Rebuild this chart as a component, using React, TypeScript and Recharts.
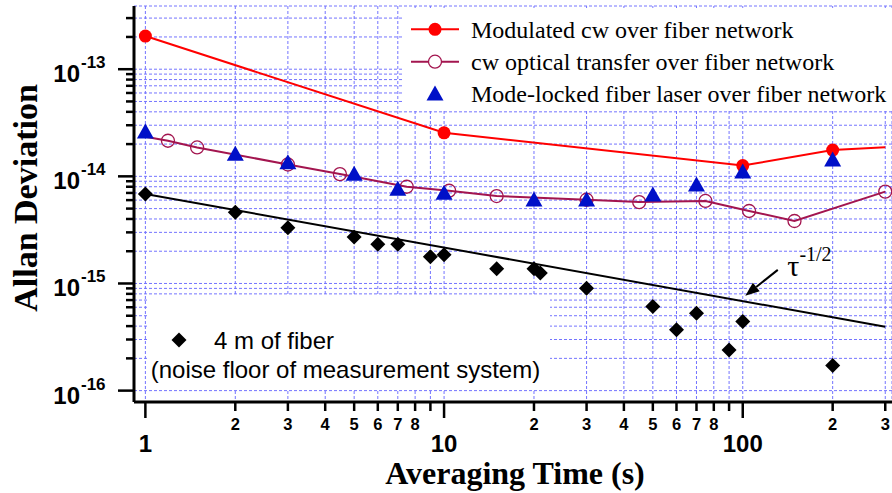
import React from 'react';
import {
  ComposedChart,
  Line,
  Scatter,
  XAxis,
  YAxis,
  CartesianGrid,
  ReferenceLine,
  ReferenceDot,
} from 'recharts';

// modulated cw over fiber network (last point only ends the line)
const redX = [1, 10, 100, 200, 300];
const redY = [2.04e-13, 2.55e-14, 1.26e-14, 1.76e-14, 1.87e-14];

// cw optical transfer over fiber network (first point only starts the line)
const cwX = [1, 1.19, 1.49, 3, 4.48, 7.5, 10.4, 15, 30, 45, 75, 105, 149, 300];
const cwY = [2.34e-14, 2.15e-14, 1.86e-14, 1.29e-14, 1.05e-14, 8.0e-15, 7.34e-15, 6.55e-15, 6.05e-15, 5.75e-15, 5.89e-15, 4.75e-15, 3.83e-15, 7.2e-15];

// mode-locked fiber laser over fiber network
const mlX = [1, 2, 3, 5, 7, 10, 20, 30, 50, 70, 100, 200];
const mlY = [2.6e-14, 1.61e-14, 1.34e-14, 1.045e-14, 7.57e-15, 6.95e-15, 6.0e-15, 6.0e-15, 6.7e-15, 8.3e-15, 1.1e-14, 1.42e-14];

// 4 m of fiber
const fibX = [1, 2, 3, 5, 6, 7, 9, 10, 15, 20, 21, 30, 50, 60, 70, 90, 100, 200];
const fibY = [6.84e-15, 4.61e-15, 3.32e-15, 2.72e-15, 2.32e-15, 2.32e-15, 1.78e-15, 1.85e-15, 1.37e-15, 1.37e-15, 1.25e-15, 9.03e-16, 6.1e-16, 3.7e-16, 5.28e-16, 2.4e-16, 4.41e-16, 1.72e-16];

// tau^-1/2 guide line
const fitX = [1, 300];
const fitY = [6.85e-15, 3.95e-16];

const xTicks = [1, 2, 3, 4, 5, 6, 7, 8, 9, 10, 20, 30, 40, 50, 60, 70, 80, 90, 100, 200, 300];
const xTickLabels = ['1', '2', '3', '4', '5', '6', '7', '8', '', '10', '2', '3', '4', '5', '6', '7', '8', '', '100', '2', '3'];
const yTicks = [
  1e-16, 2e-16, 3e-16, 4e-16, 5e-16, 6e-16, 7e-16, 8e-16, 9e-16,
  1e-15, 2e-15, 3e-15, 4e-15, 5e-15, 6e-15, 7e-15, 8e-15, 9e-15,
  1e-14, 2e-14, 3e-14, 4e-14, 5e-14, 6e-14, 7e-14, 8e-14, 9e-14,
  1e-13, 2e-13, 3e-13,
];

const toPts = (xs: number[], ys: number[]) => xs.map((x, i) => ({ x, y: ys[i] }));

const RED = '#ff0000';
const CW = '#a3154f';
const BLUE = '#0010c8';
const GRID = '#7474ff';
const SANS = '"Liberation Sans", Arial, sans-serif';
const SERIF = '"Liberation Serif", "Times New Roman", serif';

const isMajor = (v: number) => {
  const l = Math.log10(v);
  return Math.abs(l - Math.round(l)) < 1e-6;
};

const XTick = (props: any) => {
  const { x, y, payload } = props;
  const v = payload.value;
  const idx = xTicks.findIndex((t) => Math.abs(t - v) < 1e-9);
  const major = isMajor(v);
  const label = xTickLabels[idx];
  return (
    <g>
      <line x1={x} x2={x} y1={y} y2={y + (major ? 16 : 9)} stroke="#000" strokeWidth={2.5} />
      {major ? (
        <text x={x} y={y + 50} textAnchor="middle" fontSize={24} fontWeight="bold" fontFamily={SANS}>
          {label}
        </text>
      ) : label ? (
        <text x={x} y={y + 28} textAnchor="middle" fontSize={16.5} fontWeight="bold" fontFamily={SANS}>
          {label}
        </text>
      ) : null}
    </g>
  );
};

const YTick = (props: any) => {
  const { x, y, payload } = props;
  const v = payload.value;
  const major = isMajor(v);
  return (
    <g>
      <line x1={x} x2={x - (major ? 16 : 8)} y1={y} y2={y} stroke="#000" strokeWidth={2.5} />
      {major && (
        <g fontFamily={SANS} fontWeight="bold">
          <text x={x - 54} y={y + 13} textAnchor="end" fontSize={24}>10</text>
          <text x={x - 53} y={y - 1} fontSize={17}>{Math.round(Math.log10(v))}</text>
        </g>
      )}
    </g>
  );
};

const redDot = (p: any) =>
  p.index === redX.length - 1 ? <g key={p.index} /> : <circle key={p.index} cx={p.cx} cy={p.cy} r={6.5} fill={RED} />;

const cwDot = (p: any) =>
  p.index === 0 ? <g key={p.index} /> : <circle key={p.index} cx={p.cx} cy={p.cy} r={6.5} fill="none" stroke={CW} strokeWidth={1.3} />;

const Triangle = (p: any) => (
  <polygon points={`${p.cx},${p.cy - 8.5} ${p.cx + 8.5},${p.cy + 6.5} ${p.cx - 8.5},${p.cy + 6.5}`} fill={BLUE} />
);

const Diamond = (p: any) => (
  <polygon points={`${p.cx},${p.cy - 7.5} ${p.cx + 7.5},${p.cy} ${p.cx},${p.cy + 7.5} ${p.cx - 7.5},${p.cy}`} fill="#000" />
);

const Arrow = (p: any) => {
  const { x1, y1, x2, y2 } = p;
  const a = Math.atan2(y2 - y1, x2 - x1);
  const L = 14;
  const w = 5.5;
  const bx = x2 - L * Math.cos(a);
  const by = y2 - L * Math.sin(a);
  const px = -Math.sin(a) * w;
  const py = Math.cos(a) * w;
  return (
    <g>
      <line x1={x1} y1={y1} x2={bx} y2={by} stroke="#000" strokeWidth={2} />
      <polygon points={`${x2},${y2} ${bx + px},${by + py} ${bx - px},${by - py}`} fill="#000" />
    </g>
  );
};

const TauLabel = (p: any) => (
  <text x={p.cx} y={p.cy} fontFamily={SERIF} fontSize={30}>
    τ
    <tspan dy={-15} fontSize={20}>-1/2</tspan>
  </text>
);

export default function App() {
  return (
    <div style={{ position: 'absolute', left: 0, top: 0, width: 892, height: 493, background: '#fff' }}>
      <ComposedChart width={892} height={493} margin={{ top: 6, right: 0, bottom: 31, left: 0 }}>
        <CartesianGrid stroke={GRID} strokeDasharray="3 2" strokeWidth={1} />
        <XAxis
          dataKey="x"
          type="number"
          scale="log"
          domain={[0.916, 316]}
          allowDataOverflow
          ticks={xTicks}
          interval={0}
          tick={XTick}
          tickLine={false}
          tickSize={0}
          tickMargin={0}
          height={60}
          axisLine={{ stroke: '#000', strokeWidth: 3 }}
        />
        <XAxis
          xAxisId="top"
          orientation="top"
          dataKey="x"
          type="number"
          scale="log"
          domain={[0.916, 316]}
          allowDataOverflow
          tick={false}
          tickLine={false}
          height={0}
          axisLine={{ stroke: '#000', strokeWidth: 3 }}
        />
        <YAxis
          dataKey="y"
          type="number"
          scale="log"
          domain={[7.83e-17, 3.89e-13]}
          allowDataOverflow
          ticks={yTicks}
          interval={0}
          tick={YTick}
          tickLine={false}
          tickSize={0}
          tickMargin={0}
          width={134}
          axisLine={{ stroke: '#000', strokeWidth: 3 }}
        />
        <Line data={toPts(redX, redY)} dataKey="y" type="linear" stroke={RED} strokeWidth={2} dot={redDot} isAnimationActive={false} />
        <Line data={toPts(cwX, cwY)} dataKey="y" type="linear" stroke={CW} strokeWidth={2} dot={cwDot} isAnimationActive={false} />
        <Line data={toPts(fitX, fitY)} dataKey="y" type="linear" stroke="#000" strokeWidth={2} dot={false} isAnimationActive={false} />
        <Scatter data={toPts(mlX, mlY)} dataKey="y" shape={Triangle} isAnimationActive={false} />
        <Scatter data={toPts(fibX, fibY)} dataKey="y" shape={Diamond} isAnimationActive={false} />
        <ReferenceLine segment={[{ x: 131, y: 1.34e-15 }, { x: 102, y: 7.7e-16 }]} shape={Arrow} />
        <ReferenceDot x={141} y={1.17e-15} r={0} shape={TauLabel} />
      </ComposedChart>

      {/* top legend */}
      <div style={{ position: 'absolute', left: 404, top: 8, width: 488, height: 103, background: '#fff' }}>
        <svg width={488} height={103}>
          <g fontFamily={SERIF} fontSize={24}>
            <line x1={7} x2={55} y1={21.3} y2={21.3} stroke={RED} strokeWidth={2} />
            <circle cx={31} cy={21.3} r={6.5} fill={RED} />
            <text x={67} y={29.7}>Modulated cw over fiber network</text>
            <line x1={7} x2={55} y1={53.7} y2={53.7} stroke={CW} strokeWidth={2} />
            <circle cx={31} cy={53.7} r={6.5} fill="#fff" stroke={CW} strokeWidth={1.3} />
            <text x={67} y={62.1}>cw optical transfer over fiber network</text>
            <polygon points="31,77.5 39.5,92.5 22.5,92.5" fill={BLUE} />
            <text x={67} y={94.4}>Mode-locked fiber laser over fiber network</text>
          </g>
        </svg>
      </div>

      {/* bottom-left legend */}
      <div style={{ position: 'absolute', left: 149, top: 296, width: 401, height: 93, background: '#fff' }}>
        <svg width={401} height={93}>
          <g fontFamily={SANS} fontSize={24}>
            <polygon points="30,36.5 37.5,44 30,51.5 22.5,44" fill="#000" />
            <text x={65} y={53}>4 m of fiber</text>
            <text x={1.7} y={82}>(noise floor of measurement system)</text>
          </g>
        </svg>
      </div>

      {/* axis titles */}
      <svg width={892} height={493} style={{ position: 'absolute', left: 0, top: 0, pointerEvents: 'none' }}>
        <text
          transform="translate(37,198) rotate(-90)"
          textAnchor="middle"
          fontFamily={SERIF}
          fontWeight="bold"
          fontSize={34}
        >
          Allan Deviation
        </text>
        <text x={515} y={484} textAnchor="middle" fontFamily={SERIF} fontWeight="bold" fontSize={32}>
          Averaging Time (s)
        </text>
      </svg>
    </div>
  );
}
